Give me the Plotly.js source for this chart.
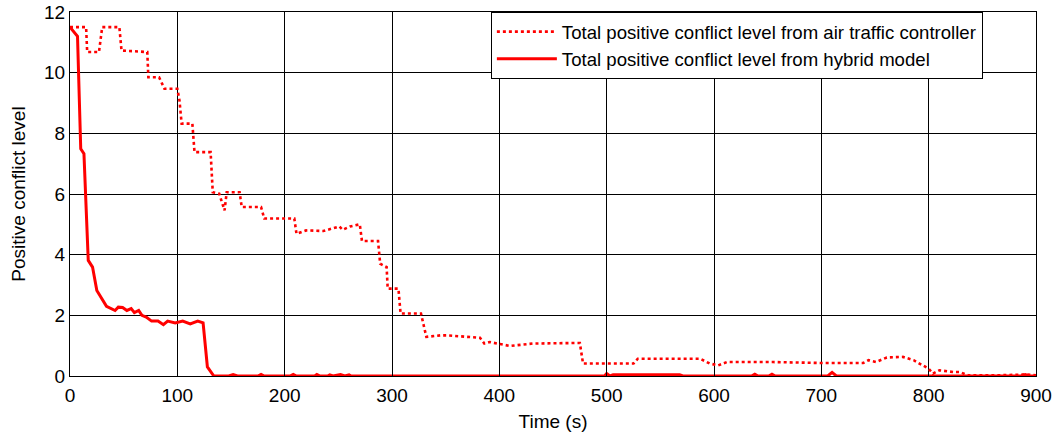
<!DOCTYPE html>
<html>
<head>
<meta charset="utf-8">
<script src="https://cdn.plot.ly/plotly-3.0.1.min.js"></script>
<style>html,body{margin:0;padding:0;background:#fff;}#chart{width:1058px;height:435px;}</style>
</head>
<body>
<div id="chart"></div>
<script>
// Total positive conflict level from air traffic controller (dotted)
const atcTime = [0,15,16,27,30,46,48,62,72,73,83,88,100,102,104,114,116,131,133,139,144,146,158,160,178,181,209,211,220,236,244,251,254,261,270,272,287,289,295,296,306,308,327,332,345,351,382,386,391,410,431,475,478,525,529,587,596,604,612,655,699,739,744,751,761,776,786,800,804,810,823,829,837,860,890,900];
const atcLevel = [11.5,11.5,10.68,10.68,11.5,11.5,10.73,10.7,10.68,9.85,9.85,9.47,9.47,9.08,8.32,8.32,7.38,7.38,6.06,6.01,5.46,6.06,6.06,5.57,5.57,5.19,5.19,4.69,4.8,4.78,4.86,4.93,4.82,4.93,5.0,4.45,4.45,3.7,3.59,2.88,2.88,2.06,2.06,1.29,1.34,1.34,1.26,1.07,1.12,0.99,1.07,1.09,0.41,0.41,0.57,0.57,0.41,0.35,0.46,0.46,0.43,0.43,0.52,0.46,0.61,0.63,0.52,0.24,0.08,0.19,0.13,0.13,0.02,0.02,0.05,0.02];
// Total positive conflict level from hybrid model (solid)
const hybridTime = [0,4,7,10,13,17,21,25,34,42,45,49,53,57,60,64,67,71,76,82,87,91,98,105,112,119,124,128,134,148,152,156,175,178,181,205,208,211,228,230,233,240,242,245,250,252,256,260,262,265,498,500,503,506,568,571,635,638,641,651,654,657,706,710,714,886,890,894,900];
const hybridLevel = [11.5,11.33,11.2,7.49,7.33,3.81,3.59,2.82,2.3,2.16,2.27,2.26,2.16,2.22,2.09,2.16,2.0,1.94,1.81,1.81,1.69,1.81,1.75,1.81,1.72,1.81,1.75,0.3,0,0,0.05,0,0,0.05,0,0,0.05,0,0,0.05,0,0,0.04,0,0.05,0.05,0,0.04,0,0,0,0.08,0,0.04,0.04,0,0,0.06,0,0,0.06,0,0,0.12,0,0,0.05,0,0];
const seriesNames = ['Total positive conflict level from air traffic controller','Total positive conflict level from hybrid model'];
const xTicks = [0,100,200,300,400,500,600,700,800,900];
const yTicks = [0,2,4,6,8,10,12];

const traces = [
  {x: atcTime, y: atcLevel, name: seriesNames[0], mode: 'lines', line: {color: '#ff0000', width: 2.6, dash: 'dot'}},
  {x: hybridTime, y: hybridLevel, name: seriesNames[1], mode: 'lines', line: {color: '#ff0000', width: 3}}
];
const axisCommon = {
  showline: true, mirror: true, linecolor: '#000', linewidth: 1,
  showgrid: true, gridcolor: '#000', gridwidth: 1,
  zeroline: false, ticks: 'inside', ticklen: 5, tickcolor: '#000',
  tickfont: {size: 19, color: '#000'}
};
const layout = {
  width: 1058, height: 435,
  margin: {l: 70, r: 22, t: 12, b: 59},
  paper_bgcolor: '#fff', plot_bgcolor: '#fff',
  font: {family: '"Liberation Sans", Arial, sans-serif', color: '#000'},
  xaxis: Object.assign({}, axisCommon, {range: [0, 900], tickvals: xTicks, ticklabelstandoff: 2, title: {text: 'Time (s)', font: {size: 19}, standoff: 9}}),
  yaxis: Object.assign({}, axisCommon, {range: [0, 12], tickvals: yTicks, title: {text: 'Positive conflict level', font: {size: 19}, standoff: 13}}),
  legend: {x: 0.945, y: 1, xanchor: 'right', yanchor: 'top', bgcolor: '#fff', bordercolor: '#000', borderwidth: 1, font: {size: 18.6}, tracegroupgap: 0, itemwidth: 60},
  showlegend: true
};
Plotly.newPlot('chart', traces, layout, {staticPlot: true});
</script>
</body>
</html>
